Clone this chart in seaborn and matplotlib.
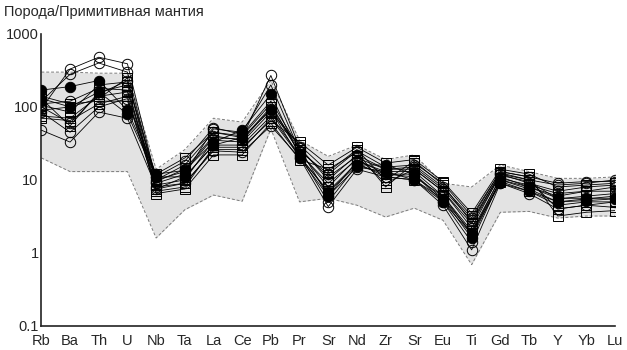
import numpy as np
import pandas as pd
import matplotlib
matplotlib.use("Agg")
import matplotlib.pyplot as plt
import seaborn as sns
from matplotlib.ticker import LogLocator, NullFormatter

elements = ["Rb", "Ba", "Th", "U", "Nb", "Ta", "La", "Ce", "Pb", "Pr", "Sr",
            "Nd", "Zr", "Sr", "Eu", "Ti", "Gd", "Tb", "Y", "Yb", "Lu"]

# field envelope (grey area)
env_upper = [300, 300, 290, 290, 14, 26, 70, 62, 230, 35, 21, 30, 19, 22, 9, 8, 16, 13, 10.5, 10.5, 11]
env_lower = [20, 13, 13, 13, 1.6, 3.9, 6.2, 5.1, 50, 5.0, 5.6, 4.5, 3.1, 4.1, 2.8, 0.69, 3.6, 3.7, 3.0, 3.2, 3.2]

# open circles
circ_1 = [95, 330, 480, 390, 10, 16, 45, 38, 270, 28, 10, 22, 14, 15, 7.5, 2.8, 12, 10, 8.5, 9, 10]
circ_2 = [120, 280, 400, 300, 9, 12, 50, 45, 200, 25, 12, 25, 15, 16, 8, 3.0, 13, 11, 9, 9.5, 9.5]
circ_3 = [48, 33, 85, 70, 8, 9, 25, 24, 55, 20, 4.3, 14, 11, 10, 4.5, 1.1, 9, 6.5, 4, 4.5, 5]
circ_4 = [100, 60, 150, 230, 11, 18, 52, 42, 120, 27, 6, 18, 13, 13, 6, 1.8, 11, 8, 6, 7, 8]
circ_5 = [85, 45, 100, 130, 7.5, 11, 30, 30, 75, 22, 5, 16, 12, 12, 5, 1.4, 10, 7.5, 5, 5.5, 6]
circ_6 = [110, 120, 180, 170, 9.5, 14, 40, 35, 95, 24, 8, 20, 14, 14, 7, 2.2, 12, 9, 7, 8, 8.5]

# open squares
sq_1 = [90, 100, 130, 250, 7, 8, 28, 28, 65, 33, 16, 28, 17, 19, 9.5, 3.5, 14, 12, 8, 8.5, 9]
sq_2 = [130, 55, 160, 200, 6.5, 7.5, 22, 22, 60, 19, 14, 24, 8, 17, 9, 3.2, 13, 11, 3.2, 3.6, 3.8]
sq_3 = [75, 70, 140, 160, 8.5, 10, 35, 33, 85, 30, 13, 26, 10, 18, 8.5, 2.6, 12.5, 10, 4, 4.5, 4.2]
sq_4 = [105, 85, 200, 220, 10, 13, 38, 36, 100, 26, 11, 21, 9, 14, 7, 2.5, 11.5, 9.5, 5.5, 6, 6.5]
sq_5 = [140, 110, 120, 120, 12, 20, 45, 40, 110, 23, 9, 19, 12, 11, 6, 2.0, 10.5, 8.5, 6.5, 7, 7]
sq_6 = [70, 65, 110, 140, 7.5, 9, 26, 26, 70, 21, 7, 17, 11, 10, 5.5, 1.9, 9.5, 7, 4.5, 5, 5]

# filled circles
fill_1 = [170, 190, 230, 90, 12, 13.5, 33, 48, 150, 21, 6.8, 16, 16, 12, 5.5, 1.6, 10, 8, 5.6, 5.6, 5.6]
fill_2 = [130, 100, 160, 80, 11, 11, 30, 38, 90, 20, 6, 15, 13, 10, 5, 1.8, 9, 7, 5, 5.2, 5.5]

series = [
    (circ_1, "o", "none"), (circ_2, "o", "none"), (circ_3, "o", "none"),
    (circ_4, "o", "none"), (circ_5, "o", "none"), (circ_6, "o", "none"),
    (sq_1, "s", "none"), (sq_2, "s", "none"), (sq_3, "s", "none"),
    (sq_4, "s", "none"), (sq_5, "s", "none"), (sq_6, "s", "none"),
    (fill_2, "o", "black"), (fill_1, "o", "black"),
]

sns.set_style("white")
plt.rcParams["font.family"] = ["Liberation Sans", "DejaVu Sans"]

fig = plt.figure(figsize=(6.27, 3.5), dpi=100)
ax = fig.add_axes([0.066, 0.069, 0.915, 0.834])

x = np.arange(len(elements))
ax.fill_between(x, env_lower, env_upper, color="#e3e3e3", lw=0, zorder=1)
sns.lineplot(x=x, y=env_upper, ax=ax, color="#7a7a7a", lw=0.7, linestyle=(0, (3, 2)), zorder=2)
sns.lineplot(x=x, y=env_lower, ax=ax, color="#7a7a7a", lw=0.7, linestyle=(0, (3, 2)), zorder=2)

for i, (vals, mk, fc) in enumerate(series):
    df = pd.DataFrame({"x": x, "y": vals})
    sns.lineplot(data=df, x="x", y="y", ax=ax, color="black", lw=0.6,
                 marker=mk, markersize=7.5 if mk == "o" else 7,
                 markerfacecolor=fc, markeredgecolor="black",
                 markeredgewidth=0.7, zorder=3 + i)

ax.set_yscale("log")
ax.set_ylim(0.1, 1000)
ax.set_xlim(0, 20)
ax.set_xticks(x)
ax.set_xticklabels(elements, fontsize=10.5)
ax.set_yticks([0.1, 1, 10, 100, 1000])
ax.set_yticklabels(["0.1", "1", "10", "100", "1000"], fontsize=10.5)
ax.yaxis.set_minor_locator(LogLocator(base=10, subs=np.arange(2, 10), numticks=20))
ax.yaxis.set_minor_formatter(NullFormatter())
ax.tick_params(axis="y", which="major", direction="in", length=13, width=1, pad=2, color="#222222")
ax.tick_params(axis="y", which="minor", direction="in", length=6.5, width=0.9, color="#555555")
ax.tick_params(axis="x", which="major", direction="in", length=6.5, width=1, pad=6, color="#222222")
ax.set_xlabel("")
ax.set_ylabel("")
for s in ["top", "right"]:
    ax.spines[s].set_visible(False)
for s in ["left", "bottom"]:
    ax.spines[s].set_color("#222222")
    ax.spines[s].set_linewidth(1.2)

fig.text(0.006, 0.965, "Порода/Примитивная мантия", fontsize=10.5, ha="left", va="center")

fig.savefig("out.png", dpi=100)
